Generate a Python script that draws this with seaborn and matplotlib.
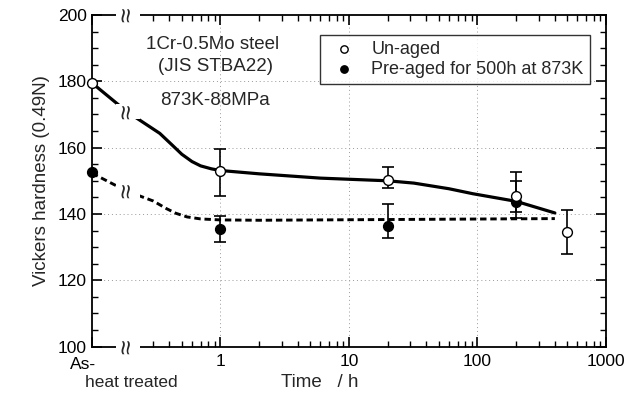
import matplotlib
matplotlib.use("Agg")
import matplotlib.pyplot as plt
import matplotlib.ticker as mticker
import matplotlib.transforms as mtransforms
import numpy as np
import pandas as pd
import seaborn as sns

# ---- data (time 0.1 h stands for the "As-heat treated" position) ----
time_h = [0.1, 1, 20, 200, 500]
unaged_hv = [179.5, 153.0, 150.3, 145.5, 134.5]
unaged_err_lo = [0, 7.5, 2.5, 4.8, 6.5]
unaged_err_hi = [0, 6.5, 4.0, 7.0, 6.7]

pre_time_h = [0.1, 1, 20, 200]
preaged_hv = [152.5, 135.5, 136.5, 143.5]
preaged_err_lo = [0, 4.0, 3.8, 4.8]
preaged_err_hi = [0, 4.0, 6.4, 6.5]

# hand-drawn guide curves
unaged_curve_t = [0.1, 0.186, 0.337, 0.42, 0.5, 0.6, 0.7, 0.85, 1.0, 2.0, 6.0, 20, 32, 60, 92, 200, 400]
unaged_curve_hv = [179.5, 170.9, 164.3, 160.8, 158.0, 155.8, 154.5, 153.6, 153.1, 152.1, 150.8, 150.0,
                   149.3, 147.6, 146.1, 143.8, 140.3]
preaged_curve_t = [0.1, 0.186, 0.3, 0.38, 0.45, 0.55, 0.7, 1.0, 2.0, 400]
preaged_curve_hv = [152.3, 146.9, 143.9, 141.6, 140.2, 139.1, 138.5, 138.2, 138.1, 138.6]

x_tick_vals = [0.1, 1, 10, 100, 1000]
x_tick_labels = ["As-", "1", "10", "100", "1000"]
y_tick_vals = [100, 120, 140, 160, 180, 200]

sns.set_style("ticks")
plt.rcParams["font.family"] = ["Liberation Sans", "DejaVu Sans"]

fig = plt.figure(figsize=(6.41, 3.94), dpi=100)
ax = fig.add_axes([0.1435, 0.1203, 0.8019, 0.8417])
ax.set_xscale("log")
ax.set_xlim(0.1, 1000)
ax.set_ylim(100, 200)

# grid (dotted)
for yv in [120, 140, 160, 180]:
    ax.axhline(yv, color="#999999", lw=0.7, ls=(0, (1, 3)), zorder=0)
for xv in [1, 10, 100]:
    ax.axvline(xv, color="#999999", lw=0.7, ls=(0, (1, 3)), zorder=0)

cu = pd.DataFrame({"t": unaged_curve_t, "hv": unaged_curve_hv})
cp = pd.DataFrame({"t": preaged_curve_t, "hv": preaged_curve_hv})
sns.lineplot(data=cu, x="t", y="hv", ax=ax, color="black", lw=2.3, zorder=2, legend=False)
sns.lineplot(data=cp, x="t", y="hv", ax=ax, color="black", lw=2.1, zorder=2, legend=False)
ax.lines[-1].set_linestyle((0, (2.2, 1.3)))
for ln in ax.lines[-2:]:
    ln.set_solid_joinstyle("round")

# error bars
ax.errorbar(time_h[1:], unaged_hv[1:], yerr=[unaged_err_lo[1:], unaged_err_hi[1:]],
            fmt="none", ecolor="black", elinewidth=1.2, capsize=4, capthick=1.2, zorder=3)
ax.errorbar(pre_time_h[1:], preaged_hv[1:], yerr=[preaged_err_lo[1:], preaged_err_hi[1:]],
            fmt="none", ecolor="black", elinewidth=1.2, capsize=4, capthick=1.2, zorder=3)

du = pd.DataFrame({"t": time_h, "hv": unaged_hv})
dp = pd.DataFrame({"t": pre_time_h, "hv": preaged_hv})
sns.scatterplot(data=dp, x="t", y="hv", ax=ax, s=50, color="black", edgecolor="black",
                linewidth=1, zorder=4, label="Pre-aged for 500h at 873K", clip_on=False)
sns.scatterplot(data=du, x="t", y="hv", ax=ax, s=50, color="white", edgecolor="black",
                linewidth=1, zorder=5, label="Un-aged", clip_on=False)

# break marks
brk_x = 0.19
def brk(x, y, transform):
    ax.text(x, y, "≈", rotation=90, ha="center", va="center", fontsize=19,
            transform=transform, zorder=6, clip_on=False,
            bbox=dict(boxstyle="square,pad=0.0", fc="white", ec="none"))
brk(brk_x, 1.0, ax.get_xaxis_transform())
brk(brk_x, 0.0, ax.get_xaxis_transform())
brk(brk_x, 170.9, ax.transData)
brk(brk_x, 147.0, ax.transData)

# axes styling
ax.set_xticks(x_tick_vals)
ax.set_xticklabels(x_tick_labels)
ax.xaxis.set_minor_locator(mticker.LogLocator(base=10, subs=np.arange(2, 10)))
ax.xaxis.set_minor_formatter(mticker.NullFormatter())
ax.set_yticks(y_tick_vals)
ax.yaxis.set_minor_locator(mticker.MultipleLocator(5))
ax.tick_params(which="both", direction="in", top=True, right=True, labelsize=12.5, colors="black")
ax.tick_params(which="major", length=7, width=1.2)
ax.tick_params(which="minor", length=4, width=1.0)
ax.tick_params(axis="x", which="major", pad=5)
lab = ax.get_xticklabels()[0]
lab.set_transform(lab.get_transform() + mtransforms.ScaledTranslation(-9/100, -3/100, fig.dpi_scale_trans))
for s in ax.spines.values():
    s.set_linewidth(1.3)
    s.set_color("black")

ax.text(-7/514, -0.108, "heat treated", transform=ax.transAxes, ha="left", va="center", fontsize=12.5)

ax.set_xlabel("Time   / h", fontsize=13.5)
ax.xaxis.set_label_coords(0.444, -0.108)
ax.xaxis.label.set_va("center")
ax.set_ylabel("Vickers hardness (0.49N)", fontsize=13.5, labelpad=6)

ax.text(0.235, 0.91, "1Cr-0.5Mo steel", transform=ax.transAxes,
        ha="center", va="center", fontsize=13.5)
ax.text(0.24, 0.845, "(JIS STBA22)", transform=ax.transAxes,
        ha="center", va="center", fontsize=13.5)
ax.text(0.24, 0.743, "873K-88MPa", transform=ax.transAxes, ha="center", va="center", fontsize=13.5)

h, l = ax.get_legend_handles_labels()
leg = ax.legend(h[::-1], l[::-1], loc="upper left", bbox_to_anchor=(0.4436, 0.94),
                fontsize=13, frameon=True, fancybox=False, edgecolor="black",
                handletextpad=0.5, borderpad=0.35, labelspacing=0.15, markerscale=0.75,
                borderaxespad=0)
leg.get_frame().set_linewidth(1.0)

fig.savefig("out.png", dpi=100)
